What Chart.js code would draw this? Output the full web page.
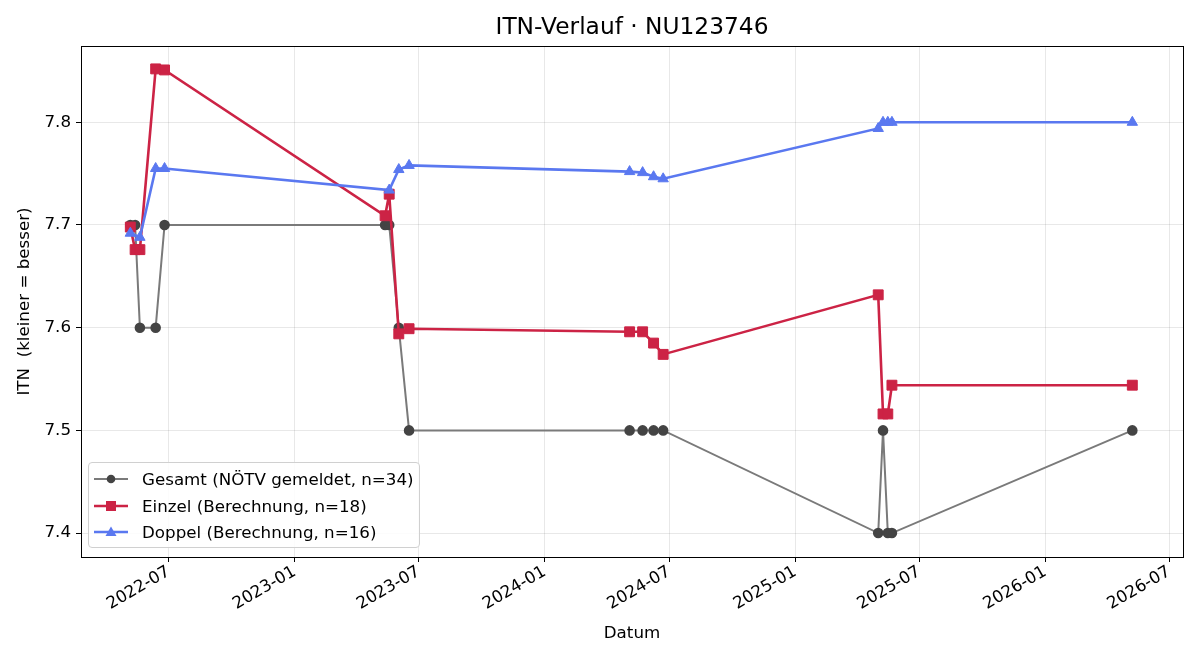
<!DOCTYPE html>
<html>
<head>
<meta charset="utf-8">
<script src="https://cdn.jsdelivr.net/npm/chart.js@4"></script>
<style>
  body { margin: 0; background: #fff; }
  #wrap { position: relative; width: 1200px; height: 660px; }
  #legend {
    position: absolute; left: 88px; top: 462px; width: 332px; height: 86px;
    border: 1px solid #d0d0d0; border-radius: 4px; background: rgba(255,255,255,0.85);
    font-family: "DejaVu Sans", sans-serif; font-size: 16.7px; color: #000;
    box-sizing: border-box; padding-top: 3px;
  }
  .row { display: flex; align-items: center; height: 26.5px; }
  .row svg { margin-left: 5px; margin-right: 14px; }
</style>
</head>
<body>
<div id="wrap">
  <canvas id="itnChart" width="1200" height="660"></canvas>
  <div id="legend"></div>
</div>
<script>
// --- Data ---
const gesamtDates = ['2022-05-06','2022-05-13','2022-05-20','2022-06-12','2022-06-25',
    '2023-05-13','2023-05-19','2023-06-02','2023-06-17',
    '2024-05-04','2024-05-23','2024-06-08','2024-06-22',
    '2025-05-02','2025-05-09','2025-05-16','2025-05-22','2026-05-08'];
const gesamtValues = [7.7, 7.7, 7.6, 7.6, 7.7, 7.7, 7.7, 7.6, 7.5, 7.5, 7.5, 7.5, 7.5, 7.4, 7.5, 7.4, 7.4, 7.5];

const einzelDates = ['2022-05-06','2022-05-13','2022-05-20','2022-06-12','2022-06-25',
    '2023-05-13','2023-05-19','2023-06-02','2023-06-17',
    '2024-05-04','2024-05-23','2024-06-08','2024-06-22',
    '2025-05-02','2025-05-09','2025-05-16','2025-05-22','2026-05-08'];
const einzelValues = [7.698, 7.676, 7.676, 7.852, 7.851, 7.709, 7.730, 7.594, 7.599,
    7.596, 7.596, 7.585, 7.574, 7.632, 7.516, 7.516, 7.544, 7.544];

const doppelDates = ['2022-05-06','2022-05-20','2022-06-12','2022-06-25',
    '2023-05-19','2023-06-02','2023-06-17',
    '2024-05-04','2024-05-23','2024-06-08','2024-06-22',
    '2025-05-02','2025-05-09','2025-05-16','2025-05-22','2026-05-08'];
const doppelValues = [7.692, 7.688, 7.755, 7.755, 7.734, 7.754, 7.758,
    7.752, 7.751, 7.747, 7.745, 7.794, 7.800, 7.800, 7.800, 7.800];

const xTickLabels = ['2022-07','2023-01','2023-07','2024-01','2024-07','2025-01','2025-07','2026-01','2026-07'];
const yTickValues = [7.4, 7.5, 7.6, 7.7, 7.8];

const toTime = s => Date.parse(s.length === 7 ? s + '-01T00:00:00Z' : s + 'T00:00:00Z');
const toPoints = (dates, vals) => dates.map((d, i) => ({ x: toTime(d), y: vals[i] }));
const fmtMonth = v => {
    const d = new Date(v);
    return d.getUTCFullYear() + '-' + String(d.getUTCMonth() + 1).padStart(2, '0');
};

const FONT = '"DejaVu Sans", sans-serif';
const TITLE = 'ITN-Verlauf · NU123746';

// frame round the plot area + title centred over the axes (matplotlib style)
const frame = {
    id: 'frame',
    afterDatasetsDraw(chart) {
        const a = chart.chartArea, ctx = chart.ctx;
        ctx.save();
        ctx.strokeStyle = '#000';
        ctx.lineWidth = 1;
        ctx.strokeRect(Math.round(a.left) + 0.5, Math.round(a.top) + 0.5,
            Math.round(a.right - a.left), Math.round(a.bottom - a.top));
        ctx.fillStyle = '#000';
        ctx.font = '23.3px ' + FONT;
        ctx.textAlign = 'center';
        ctx.textBaseline = 'middle';
        ctx.fillText(TITLE, (a.left + a.right) / 2, 28);
        ctx.restore();
    }
};

const chart = new Chart(document.getElementById('itnChart'), {
    type: 'line',
    data: {
        datasets: [{
            label: 'Gesamt (NÖTV gemeldet, n=34)',
            data: toPoints(gesamtDates, gesamtValues),
            borderColor: '#7a7a7a',
            backgroundColor: '#444444',
            pointBackgroundColor: '#444444',
            pointBorderColor: '#444444',
            borderWidth: 2,
            pointRadius: 4.3,
            pointStyle: 'circle',
            order: 3
        }, {
            label: 'Einzel (Berechnung, n=18)',
            data: toPoints(einzelDates, einzelValues),
            borderColor: '#cc2345',
            backgroundColor: '#cc2345',
            pointBackgroundColor: '#cc2345',
            pointBorderColor: '#cc2345',
            borderWidth: 2.6,
            pointRadius: 7,
            pointBorderWidth: 1,
            pointStyle: 'rect',
            order: 2
        }, {
            label: 'Doppel (Berechnung, n=16)',
            data: toPoints(doppelDates, doppelValues),
            borderColor: '#5a78f0',
            backgroundColor: '#5a78f0',
            pointBackgroundColor: '#5a78f0',
            pointBorderColor: '#5a78f0',
            borderWidth: 2.6,
            pointRadius: 6,
            pointBorderWidth: 1,
            pointStyle: 'triangle',
            order: 1
        }]
    },
    options: {
        responsive: false,
        animation: false,
        layout: { padding: { left: 0, right: 17, top: 46, bottom: 0 } },
        plugins: {
            legend: { display: false },
            tooltip: { enabled: false },
            title: { display: false }
        },
        scales: {
            x: {
                type: 'linear',
                min: toTime('2022-02-23'),
                max: toTime('2026-07-21'),
                afterBuildTicks: s => { s.ticks = xTickLabels.map(t => ({ value: toTime(t) })); },
                afterFit: s => { s.height = 103; },
                ticks: {
                    callback: v => fmtMonth(v),
                    minRotation: 30, maxRotation: 30,
                    color: '#000', padding: 0,
                    font: { family: FONT, size: 16.7 }
                },
                grid: { color: 'rgba(0,0,0,0.09)', tickColor: '#000', tickLength: 5 },
                border: { color: '#000' },
                title: {
                    display: true, text: 'Datum', color: '#000',
                    font: { family: FONT, size: 16.7 }, padding: { top: 0, bottom: 16 }
                }
            },
            y: {
                min: 7.3767,
                max: 7.8743,
                afterBuildTicks: s => { s.ticks = yTickValues.map(v => ({ value: v })); },
                afterFit: s => { s.width = 81; },
                ticks: {
                    callback: v => v.toFixed(1),
                    color: '#000', padding: 5,
                    font: { family: FONT, size: 16.7 }
                },
                grid: { color: 'rgba(0,0,0,0.09)', tickColor: '#000', tickLength: 5 },
                border: { color: '#000' },
                title: {
                    display: true, text: 'ITN  (kleiner = besser)', color: '#000',
                    font: { family: FONT, size: 16.7 }, padding: { top: 15, bottom: 0 }
                }
            }
        }
    },
    plugins: [frame]
});

// --- HTML legend inside the plot (bottom-left) ---
function markerSvg(ds) {
    const c = ds.borderColor, m = ds.pointBackgroundColor;
    let mark = '';
    if (ds.pointStyle === 'circle') mark = `<circle cx="17" cy="8" r="4.3" fill="${m}"/>`;
    if (ds.pointStyle === 'rect') mark = `<rect x="12" y="3" width="10" height="10" fill="${m}"/>`;
    if (ds.pointStyle === 'triangle') mark = `<polygon points="17,2.5 22.5,12 11.5,12" fill="${m}"/>`;
    return `<svg width="34" height="16"><line x1="0" y1="8" x2="34" y2="8" stroke="${c}" stroke-width="${ds.borderWidth}"/>${mark}</svg>`;
}
const legendEl = document.getElementById('legend');
chart.data.datasets.forEach(ds => {
    const row = document.createElement('div');
    row.className = 'row';
    row.innerHTML = markerSvg(ds) + `<span>${ds.label}</span>`;
    legendEl.appendChild(row);
});
</script>
</body>
</html>
